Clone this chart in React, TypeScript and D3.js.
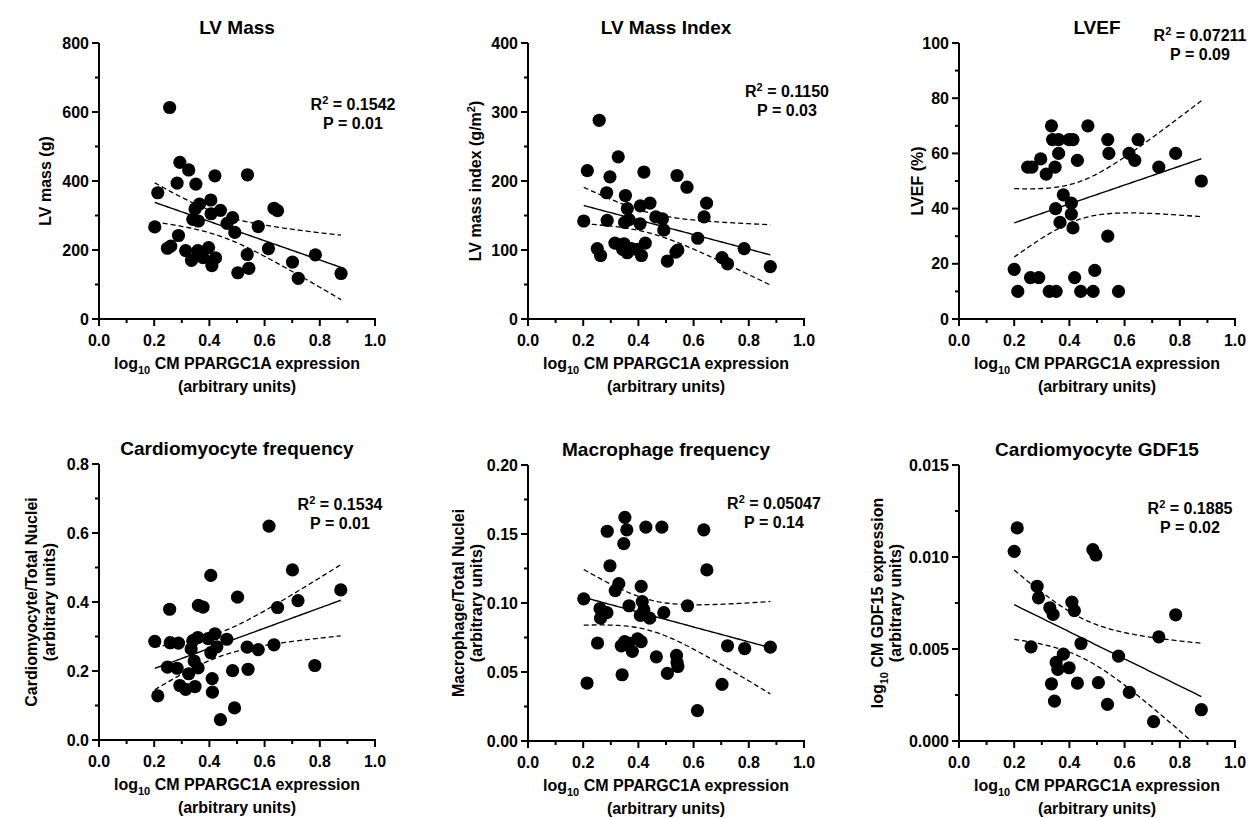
import React from "react";
import * as d3 from "d3";

// ---------- data ----------
const xTickValues = [0, 0.2, 0.4, 0.6, 0.8, 1.0];
const xTickLabels = ["0.0", "0.2", "0.4", "0.6", "0.8", "1.0"];

const lvMassX = [0.256, 0.293, 0.325, 0.283, 0.351, 0.42, 0.538, 0.213, 0.405, 0.364, 0.348, 0.406, 0.44, 0.484, 0.634, 0.647, 0.34, 0.36, 0.464, 0.577, 0.202, 0.492, 0.288, 0.248, 0.26, 0.314, 0.358, 0.397, 0.335, 0.377, 0.422, 0.409, 0.537, 0.614, 0.503, 0.543, 0.701, 0.784, 0.722, 0.877];
const lvMassY = [613, 454, 432, 394, 391, 415, 418, 366, 345, 333, 319, 305, 315, 294, 321, 314, 289, 284, 277, 268, 267, 251, 242, 205, 211, 198, 198, 207, 170, 178, 177, 155, 187, 204, 134, 147, 165, 186, 118, 132];

const lvmiX = [0.258, 0.215, 0.327, 0.297, 0.42, 0.54, 0.576, 0.285, 0.353, 0.36, 0.407, 0.442, 0.647, 0.638, 0.202, 0.287, 0.35, 0.366, 0.406, 0.463, 0.487, 0.492, 0.615, 0.251, 0.263, 0.315, 0.336, 0.348, 0.343, 0.36, 0.374, 0.394, 0.411, 0.425, 0.505, 0.536, 0.543, 0.703, 0.723, 0.783, 0.878];
const lvmiY = [288, 215, 235, 206, 213, 208, 191, 183, 179, 160, 164, 168, 168, 148, 142, 143, 140, 144, 138, 148, 145, 129, 117, 102, 92, 110, 107, 109, 101, 96, 102, 101, 92, 110, 84, 97, 100, 89, 80, 102, 76];

const lvefX = [0.335, 0.467, 0.339, 0.361, 0.399, 0.413, 0.539, 0.649, 0.361, 0.543, 0.616, 0.785, 0.296, 0.429, 0.637, 0.249, 0.264, 0.348, 0.724, 0.316, 0.878, 0.378, 0.35, 0.407, 0.407, 0.366, 0.413, 0.539, 0.2, 0.492, 0.259, 0.289, 0.419, 0.213, 0.327, 0.352, 0.441, 0.486, 0.578];
const lvefY = [70, 70, 65, 65, 65, 65, 65, 65, 60, 60, 60, 60, 58, 57.5, 57.5, 55, 55, 55, 55, 52.5, 50, 45, 40, 42, 38, 35, 33, 30, 18, 17.6, 15, 15, 15, 10, 10, 10, 10, 10, 10];

const cmFreqX = [0.616, 0.701, 0.405, 0.876, 0.502, 0.721, 0.256, 0.36, 0.377, 0.647, 0.202, 0.258, 0.288, 0.34, 0.358, 0.395, 0.42, 0.463, 0.427, 0.334, 0.405, 0.537, 0.577, 0.634, 0.248, 0.283, 0.345, 0.359, 0.325, 0.484, 0.54, 0.782, 0.41, 0.293, 0.314, 0.348, 0.213, 0.411, 0.491, 0.44];
const cmFreqY = [0.62, 0.493, 0.477, 0.435, 0.414, 0.404, 0.379, 0.39, 0.385, 0.384, 0.286, 0.282, 0.281, 0.288, 0.297, 0.294, 0.308, 0.292, 0.27, 0.264, 0.253, 0.269, 0.262, 0.276, 0.211, 0.208, 0.229, 0.209, 0.192, 0.201, 0.205, 0.216, 0.178, 0.158, 0.147, 0.155, 0.128, 0.139, 0.093, 0.059];

const macX = [0.351, 0.287, 0.358, 0.427, 0.485, 0.637, 0.347, 0.297, 0.648, 0.329, 0.41, 0.316, 0.202, 0.414, 0.261, 0.366, 0.578, 0.286, 0.263, 0.42, 0.407, 0.441, 0.492, 0.252, 0.35, 0.338, 0.364, 0.397, 0.41, 0.378, 0.465, 0.538, 0.54, 0.543, 0.723, 0.785, 0.878, 0.214, 0.341, 0.505, 0.703, 0.614];
const macY = [0.162, 0.152, 0.153, 0.155, 0.155, 0.153, 0.143, 0.127, 0.124, 0.114, 0.112, 0.109, 0.103, 0.101, 0.096, 0.098, 0.098, 0.093, 0.089, 0.095, 0.091, 0.089, 0.093, 0.071, 0.072, 0.069, 0.071, 0.074, 0.072, 0.065, 0.061, 0.062, 0.057, 0.054, 0.069, 0.067, 0.068, 0.042, 0.048, 0.049, 0.041, 0.022];

const gdfX = [0.211, 0.2, 0.485, 0.496, 0.283, 0.288, 0.409, 0.329, 0.418, 0.341, 0.785, 0.724, 0.261, 0.442, 0.378, 0.578, 0.352, 0.358, 0.399, 0.335, 0.429, 0.505, 0.617, 0.346, 0.538, 0.705, 0.878];
const gdfY = [0.01158, 0.01031, 0.0104, 0.01011, 0.00841, 0.00778, 0.00755, 0.00724, 0.00709, 0.00688, 0.00686, 0.00566, 0.00512, 0.0053, 0.00472, 0.00461, 0.00427, 0.00389, 0.00398, 0.00311, 0.00315, 0.00317, 0.00264, 0.00217, 0.00199, 0.00105, 0.0017];

const titles = ["LV Mass", "LV Mass Index", "LVEF", "Cardiomyocyte frequency", "Macrophage frequency", "Cardiomyocyte GDF15"];
const r2Labels = ["0.1542", "0.1150", "0.07211", "0.1534", "0.05047", "0.1885"];
const pLabels = ["0.01", "0.03", "0.09", "0.01", "0.14", "0.02"];

// ---------- layout ----------
const PW = 276;
const PH = 276;
const FONT = "'Liberation Sans', Arial, Helvetica, sans-serif";

type Panel = {
  title: string;
  xs: number[];
  ys: number[];
  yMax: number;
  yStep: number;
  yFmt: (v: number) => string;
  yLabel: React.ReactNode[];
  r2: string;
  p: string;
  left: number;
  top: number;
  statCx: number;
  statY: number;
  ylabX: number;
};

function Log10({ rest }: { rest: string }) {
  return (
    <>
      <tspan>log</tspan>
      <tspan fontSize={11} dy={5}>10</tspan>
      <tspan dy={-5}>{rest}</tspan>
    </>
  );
}

const panels: Panel[] = [
  { title: titles[0], xs: lvMassX, ys: lvMassY, yMax: 800, yStep: 200, yFmt: d3.format("d"), yLabel: ["LV mass (g)"], r2: r2Labels[0], p: pLabels[0], left: 99, top: 43, statCx: 353, statY: 110, ylabX: 51 },
  { title: titles[1], xs: lvmiX, ys: lvmiY, yMax: 400, yStep: 100, yFmt: d3.format("d"), yLabel: [<>LV mass index (g/m<tspan fontSize={11} dy={-6}>2</tspan><tspan dy={6}>)</tspan></>], r2: r2Labels[1], p: pLabels[1], left: 528, top: 43, statCx: 787, statY: 97, ylabX: 481 },
  { title: titles[2], xs: lvefX, ys: lvefY, yMax: 100, yStep: 20, yFmt: d3.format("d"), yLabel: ["LVEF (%)"], r2: r2Labels[2], p: pLabels[2], left: 959, top: 43, statCx: 1200, statY: 41, ylabX: 923 },
  { title: titles[3], xs: cmFreqX, ys: cmFreqY, yMax: 0.8, yStep: 0.2, yFmt: d3.format(".1f"), yLabel: ["Cardiomyocyte/Total Nuclei", "(arbitrary units)"], r2: r2Labels[3], p: pLabels[3], left: 99, top: 464, statCx: 340, statY: 510, ylabX: 37 },
  { title: titles[4], xs: macX, ys: macY, yMax: 0.2, yStep: 0.05, yFmt: d3.format(".2f"), yLabel: ["Macrophage/Total Nuclei", "(arbitrary units)"], r2: r2Labels[4], p: pLabels[4], left: 528, top: 465, statCx: 774, statY: 509, ylabX: 464 },
  { title: titles[5], xs: gdfX, ys: gdfY, yMax: 0.015, yStep: 0.005, yFmt: d3.format(".3f"), yLabel: [<Log10 rest=" CM GDF15 expression" />, "(arbitrary units)"], r2: r2Labels[5], p: pLabels[5], left: 959, top: 465, statCx: 1190, statY: 514, ylabX: 883 },
];

function tQuantile975(df: number) {
  const z = 1.959964;
  const z3 = z * z * z;
  const z5 = z3 * z * z;
  return z + (z3 + z) / (4 * df) + (5 * z5 + 16 * z3 + 3 * z) / (96 * df * df);
}

function fit(xs: number[], ys: number[]) {
  const n = xs.length;
  const mx = d3.mean(xs)!;
  const my = d3.mean(ys)!;
  let sxx = 0, sxy = 0;
  for (let i = 0; i < n; i++) {
    sxx += (xs[i] - mx) ** 2;
    sxy += (xs[i] - mx) * (ys[i] - my);
  }
  const b = sxy / sxx;
  const a = my - b * mx;
  let sse = 0;
  for (let i = 0; i < n; i++) sse += (ys[i] - a - b * xs[i]) ** 2;
  const s = Math.sqrt(sse / (n - 2));
  const t = tQuantile975(n - 2);
  const [x0, x1] = d3.extent(xs) as [number, number];
  const pts = d3.range(0, 61).map((i) => {
    const x = x0 + ((x1 - x0) * i) / 60;
    const yh = a + b * x;
    const h = t * s * Math.sqrt(1 / n + (x - mx) ** 2 / sxx);
    return { x, yh, lo: yh - h, hi: yh + h };
  });
  return pts;
}

function PanelView({ pn, idx }: { pn: Panel; idx: number }) {
  const x = d3.scaleLinear().domain([0, 1]).range([pn.left, pn.left + PW]);
  const y = d3.scaleLinear().domain([0, pn.yMax]).range([pn.top + PH, pn.top]);
  const bottom = pn.top + PH;
  const nMaj = Math.round(pn.yMax / pn.yStep);
  const yMajor = d3.range(0, nMaj + 1).map((i) => i * pn.yStep);
  const yMinor = d3.range(0, nMaj).map((i) => (i + 0.5) * pn.yStep);
  const xMinor = [0.1, 0.3, 0.5, 0.7, 0.9];
  const pts = fit(pn.xs, pn.ys);
  const line = (key: "yh" | "lo" | "hi") =>
    d3.line<any>().x((d) => x(d.x)).y((d) => y(d[key]))(pts)!;
  const clipId = `clip${idx}`;
  const cx = pn.left + PW / 2;
  const cy = pn.top + PH / 2;
  return (
    <g fontFamily={FONT} fontWeight="bold" fill="#000">
      <defs>
        <clipPath id={clipId}>
          <rect x={pn.left} y={pn.top - 2} width={PW + 4} height={PH + 2} />
        </clipPath>
      </defs>
      <text x={cx} y={pn.top - 9} textAnchor="middle" fontSize={19}>{pn.title}</text>
      {/* y axis */}
      <line x1={pn.left} x2={pn.left} y1={pn.top} y2={bottom + 1} stroke="#000" strokeWidth={2} />
      {yMajor.map((v) => (
        <g key={"ym" + v}>
          <line x1={pn.left - 7} x2={pn.left} y1={y(v)} y2={y(v)} stroke="#000" strokeWidth={2} />
          <text x={pn.left - 10} y={y(v)} dy="0.35em" textAnchor="end" fontSize={16}>{pn.yFmt(v)}</text>
        </g>
      ))}
      {yMinor.map((v) => (
        <line key={"yn" + v} x1={pn.left - 4} x2={pn.left} y1={y(v)} y2={y(v)} stroke="#000" strokeWidth={2} />
      ))}
      {/* x axis */}
      <line x1={pn.left - 1} x2={pn.left + PW + 1} y1={bottom} y2={bottom} stroke="#000" strokeWidth={2} />
      {xTickValues.map((v, i) => (
        <g key={"xm" + v}>
          <line x1={x(v)} x2={x(v)} y1={bottom} y2={bottom + 7} stroke="#000" strokeWidth={2} />
          <text x={x(v)} y={bottom + 27} textAnchor="middle" fontSize={16}>{xTickLabels[i]}</text>
        </g>
      ))}
      {xMinor.map((v) => (
        <line key={"xn" + v} x1={x(v)} x2={x(v)} y1={bottom} y2={bottom + 4} stroke="#000" strokeWidth={2} />
      ))}
      <text x={cx} y={bottom + 50} textAnchor="middle" fontSize={16}>
        <Log10 rest=" CM PPARGC1A expression" />
      </text>
      <text x={cx} y={bottom + 73} textAnchor="middle" fontSize={16}>(arbitrary units)</text>
      {/* y label */}
      {pn.yLabel.map((lab, i) => (
        <text key={"yl" + i} transform={`translate(${pn.ylabX + i * 18},${cy}) rotate(-90)`} textAnchor="middle" fontSize={16}>
          {lab}
        </text>
      ))}
      {/* points */}
      {pn.xs.map((xv, i) => (
        <circle key={"p" + i} cx={x(xv)} cy={y(pn.ys[i])} r={6.6} fill="#000" />
      ))}
      {/* fit */}
      <g clipPath={`url(#${clipId})`} fill="none" stroke="#000">
        <path d={line("yh")} strokeWidth={1.4} />
        <path d={line("lo")} strokeWidth={1.3} strokeDasharray="5,3" />
        <path d={line("hi")} strokeWidth={1.3} strokeDasharray="5,3" />
      </g>
      {/* stats */}
      <text x={pn.statCx} y={pn.statY} textAnchor="middle" fontSize={16}>
        R<tspan fontSize={11} dy={-6}>2</tspan><tspan dy={6}>{` = ${pn.r2}`}</tspan>
      </text>
      <text x={pn.statCx} y={pn.statY + 19} textAnchor="middle" fontSize={16}>{`P = ${pn.p}`}</text>
    </g>
  );
}

export default function App() {
  return (
    <svg width={1249} height={818} style={{ position: "absolute", left: 0, top: 0, background: "#fff" }}>
      <rect width={1249} height={818} fill="#fff" />
      {panels.map((pn, i) => (
        <PanelView key={i} pn={pn} idx={i} />
      ))}
    </svg>
  );
}
